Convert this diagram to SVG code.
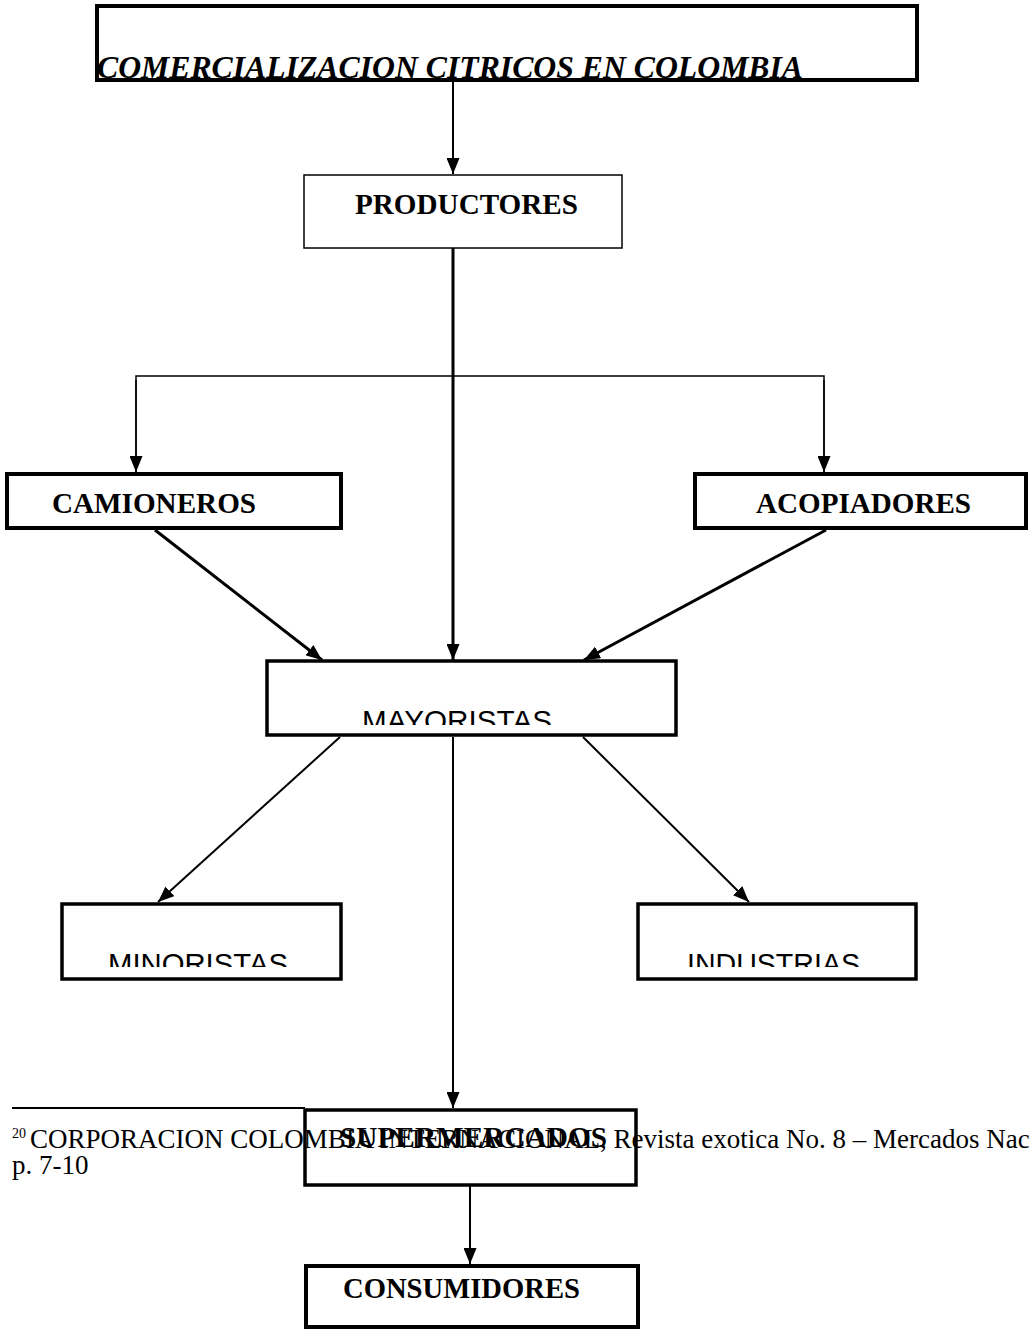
<svg xmlns="http://www.w3.org/2000/svg" width="1030" height="1339" viewBox="0 0 1030 1339">
<style>
.box{fill:none;stroke:#000}
.lbl{font-family:"Liberation Serif","Times New Roman",serif;font-weight:bold;font-size:29px;fill:#000}
.sans{font-family:"Liberation Sans",Arial,sans-serif;font-size:29px;fill:#000}
.fn{font-family:"Liberation Serif","Times New Roman",serif;font-size:27px;fill:#000}
.sup{font-family:"Liberation Serif","Times New Roman",serif;font-size:14px;fill:#000}
.c{fill:none;stroke:#000}
</style>
<defs>
<marker id="ah" markerUnits="userSpaceOnUse" markerWidth="17" markerHeight="13" refX="16" refY="6.5" orient="auto">
<path d="M0,0 L16,6.5 L0,13 z" fill="#000"/>
</marker>
<clipPath id="clipMay"><rect x="266" y="660" width="410" height="65"/></clipPath>
<clipPath id="clipMin"><rect x="62" y="904" width="280" height="63"/></clipPath>
<clipPath id="clipInd"><rect x="638" y="904" width="278" height="63"/></clipPath>
</defs>
<rect width="1030" height="1339" fill="#fff"/>

<g id="connectors">
<line class="c" x1="453" y1="80" x2="453" y2="174" stroke-width="2" marker-end="url(#ah)"/>
<line class="c" x1="453" y1="248" x2="453" y2="660" stroke-width="3" marker-end="url(#ah)"/>
<polyline class="c" points="136,472 136,376 824,376 824,472" stroke-width="1.5"/>
<line class="c" x1="136" y1="380" x2="136" y2="472" stroke-width="1.5" marker-end="url(#ah)"/>
<line class="c" x1="824" y1="380" x2="824" y2="472" stroke-width="1.5" marker-end="url(#ah)"/>
<line class="c" x1="155" y1="530" x2="322" y2="660" stroke-width="3" marker-end="url(#ah)"/>
<line class="c" x1="826" y1="530" x2="584" y2="660" stroke-width="3" marker-end="url(#ah)"/>
<line class="c" x1="340" y1="737" x2="158" y2="902" stroke-width="2" marker-end="url(#ah)"/>
<line class="c" x1="583" y1="737" x2="749" y2="902" stroke-width="2" marker-end="url(#ah)"/>
<line class="c" x1="453" y1="737" x2="453" y2="1108" stroke-width="2" marker-end="url(#ah)"/>
<line class="c" x1="470" y1="1186" x2="470" y2="1264" stroke-width="2" marker-end="url(#ah)"/>
</g>

<g id="footnote">
<line x1="12" y1="1108" x2="305" y2="1108" stroke="#000" stroke-width="2"/>
<text class="sup" x="12" y="1138">20</text>
<text class="fn" x="30" y="1148">CORPORACION COLOMBIA INTERNACIONAL, Revista exotica No. 8 – Mercados Nacionales</text>
<text class="fn" x="12" y="1174">p. 7-10</text>
</g>

<g id="title">
<rect class="box" x="97" y="6" width="820" height="74" stroke-width="4"/>
<text x="97" y="78" font-family="'Liberation Serif','Times New Roman',serif" font-weight="bold" font-style="italic" font-size="32" textLength="706" lengthAdjust="spacingAndGlyphs">COMERCIALIZACION CITRICOS EN COLOMBIA</text>
</g>

<g id="productores">
<rect class="box" x="304" y="175" width="318" height="73" stroke-width="1.5"/>
<text class="lbl" x="355" y="214" textLength="223" lengthAdjust="spacingAndGlyphs">PRODUCTORES</text>
</g>

<g id="camioneros">
<rect class="box" x="7" y="474" width="334" height="54" stroke-width="4"/>
<text class="lbl" x="52" y="513" textLength="204" lengthAdjust="spacingAndGlyphs">CAMIONEROS</text>
</g>

<g id="acopiadores">
<rect class="box" x="695" y="474" width="331" height="54" stroke-width="4"/>
<text class="lbl" x="756" y="513" textLength="215" lengthAdjust="spacingAndGlyphs">ACOPIADORES</text>
</g>

<g id="mayoristas">
<rect class="box" x="267" y="661" width="409" height="74" stroke-width="3.5"/>
<text class="sans" x="362" y="731" textLength="190" lengthAdjust="spacingAndGlyphs" clip-path="url(#clipMay)">MAYORISTAS</text>
</g>

<g id="minoristas">
<rect class="box" x="62" y="904" width="279" height="75" stroke-width="3.5"/>
<text class="sans" x="108" y="974" textLength="180" lengthAdjust="spacingAndGlyphs" clip-path="url(#clipMin)">MINORISTAS</text>
</g>

<g id="industrias">
<rect class="box" x="638" y="904" width="278" height="75" stroke-width="3.5"/>
<text class="sans" x="687" y="974" textLength="173" lengthAdjust="spacingAndGlyphs" clip-path="url(#clipInd)">INDUSTRIAS</text>
</g>

<g id="supermercados">
<rect class="box" x="305" y="1110" width="331" height="75" stroke-width="3.5"/>
<text class="lbl" x="340" y="1147" textLength="267" lengthAdjust="spacingAndGlyphs">SUPERMERCADOS</text>
</g>

<g id="consumidores">
<rect class="box" x="306" y="1266" width="332" height="61" stroke-width="4"/>
<text class="lbl" x="343" y="1298" textLength="237" lengthAdjust="spacingAndGlyphs">CONSUMIDORES</text>
</g>
</svg>
